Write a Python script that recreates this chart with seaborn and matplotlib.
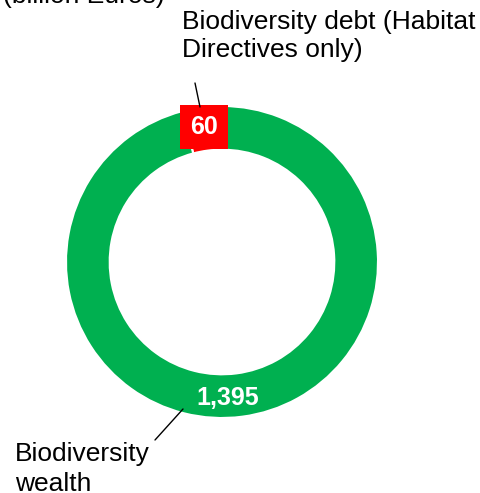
import matplotlib
matplotlib.use("Agg")
import matplotlib.pyplot as plt
from matplotlib.lines import Line2D
import seaborn as sns
import numpy as np

# ---- data ----
categories = ["Biodiversity debt (Habitat\nDirectives only)", "Biodiversity wealth"]
values = [60, 1395]
value_labels = ["60", "1,395"]
colors = ["#FF0000", "#00B050"]
unit_label = "(billion Euros)"

sns.set_theme(style="white")
plt.rcParams['font.family'] = ['Liberation Sans', 'DejaVu Sans']

W, H = 480, 493
fig = plt.figure(figsize=(W / 100, H / 100), dpi=100)
ax = fig.add_axes([0, 0, 1, 1])

wedges, _ = ax.pie(values, colors=colors, startangle=90, counterclock=True,
                   radius=1.0,
                   wedgeprops=dict(width=0.28, edgecolor="white", linewidth=1.5))

# position axes so ring center is at pixel (222, 262), outer radius 156 px
cx, cy, R = 222, 262, 156
ax.set_xlim((0 - cx) / R, (W - cx) / R)
ax.set_ylim((cy - H) / R, cy / R)
ax.set_aspect('auto')
ax.axis('off')

# value labels
w0 = wedges[0]
mid0 = np.deg2rad((w0.theta1 + w0.theta2) / 2)
r_lab = 0.87
ax.text(r_lab * np.cos(mid0) - 0.005, r_lab * np.sin(mid0) + 0.005, value_labels[0],
        ha='center', va='center', color='white', fontsize=18, fontweight='bold',
        bbox=dict(boxstyle='square,pad=0.4', fc=colors[0], ec='none'))
ang1 = np.deg2rad(-87.7)
ax.text(r_lab * np.cos(ang1), r_lab * np.sin(ang1), value_labels[1],
        ha='center', va='center', color='white', fontsize=18, fontweight='bold')

# category labels
fig.text(182 / W, 1 - 10 / H, categories[0], ha='left', va='top', fontsize=19,
         color='black', linespacing=1.2)
fig.text(15 / W, 1 - 442 / H, "Biodiversity\nwealth", ha='left', va='top', fontsize=19,
         color='black', linespacing=1.3)
fig.text(3 / W, 1 - 3 / H, unit_label, ha='left', va='baseline', fontsize=19,
         color='black')

# leader lines
def pline(x1, y1, x2, y2):
    fig.add_artist(Line2D([x1 / W, x2 / W], [1 - y1 / H, 1 - y2 / H],
                          transform=fig.transFigure, color='black', lw=1.0))

pline(195, 83, 200, 107)
pline(155, 440, 183, 409)

fig.savefig("out.png", dpi=100, facecolor='white')
